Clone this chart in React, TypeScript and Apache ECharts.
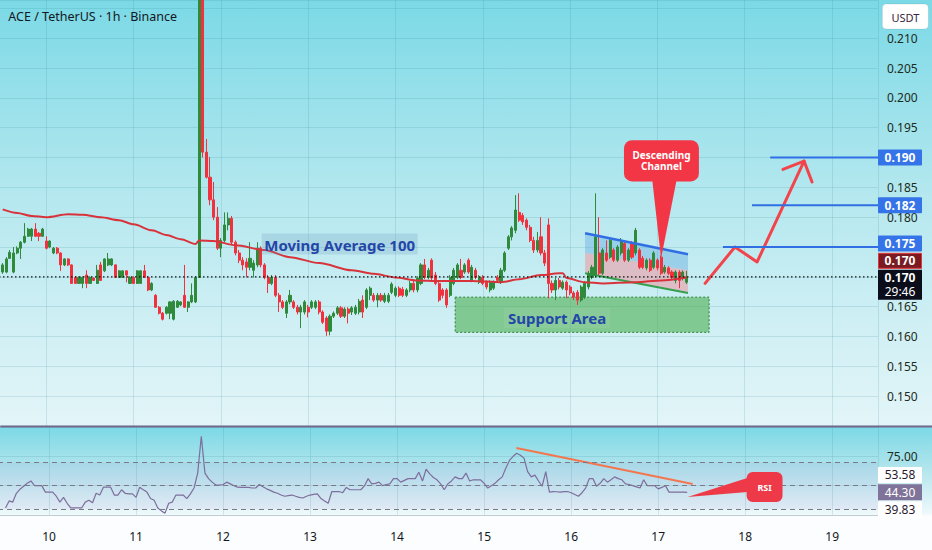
import React, { useEffect, useRef } from "react";
import * as echarts from "echarts";

// time axis: hours counted from day 10, 00:00 (1h candles)
const FIRST_HOUR = -12;
const X_MIN = -24;
const X_MAX = 228.63;
const DAY0 = 10;
// the chart canvas starts left of the page so that the axis starts on a whole day
const OX = 41.34;

// OHLC of the 1h candles, one per hour starting at FIRST_HOUR
const opens = [
  0.1708, 0.1708, 0.1731, 0.1708, 0.174, 0.1748, 0.1758, 0.1768, 0.1768, 0.178,
  0.1773, 0.1768, 0.176, 0.175, 0.174, 0.1748, 0.174, 0.172, 0.173, 0.172,
  0.1699, 0.1689, 0.1689, 0.1703, 0.1689, 0.1698, 0.1689, 0.172, 0.171, 0.172,
  0.172, 0.172, 0.1699, 0.1699, 0.171, 0.1689, 0.1699, 0.1689, 0.1689, 0.171,
  0.1699, 0.1678, 0.1669, 0.1649, 0.1639, 0.1639, 0.1639, 0.1629, 0.1649, 0.1653,
  0.1669, 0.1649, 0.1658, 0.1658, 0.1699, 0.23, 0.1909, 0.1867, 0.1829, 0.18,
  0.1748, 0.1761, 0.1787, 0.1798, 0.1758, 0.174, 0.1728, 0.1725, 0.1716, 0.1711,
  0.172, 0.1748, 0.172, 0.1699, 0.1689, 0.1699, 0.1669, 0.1658, 0.1639, 0.1658,
  0.1658, 0.1649, 0.1641, 0.1641, 0.1649, 0.1649, 0.1649, 0.1658, 0.1641, 0.1631,
  0.1609, 0.1634, 0.1639, 0.1648, 0.1634, 0.1646, 0.1641, 0.1639, 0.1641, 0.1661,
  0.1649, 0.1669, 0.1669, 0.1661, 0.1669, 0.1659, 0.1659, 0.1674, 0.1669, 0.1681,
  0.1679, 0.1669, 0.1678, 0.1689, 0.1678, 0.1689, 0.172, 0.1699, 0.1728, 0.1703,
  0.1689, 0.1678, 0.1678, 0.1669, 0.1689, 0.1699, 0.1711, 0.1708, 0.1728, 0.1694,
  0.1711, 0.1691, 0.1699, 0.1691, 0.1678, 0.1681, 0.1699, 0.1691, 0.1711, 0.1748,
  0.1767, 0.1778, 0.1808, 0.1803, 0.1795, 0.1783, 0.1761, 0.1745, 0.1767, 0.174,
  0.1787, 0.1689, 0.1678, 0.1694, 0.1681, 0.1691, 0.1683, 0.1673, 0.1674, 0.1661,
  0.1666, 0.1683, 0.1699, 0.1703, 0.174, 0.1706, 0.174, 0.1733, 0.1745, 0.1728,
  0.174, 0.1756, 0.1728, 0.1756, 0.174, 0.1745, 0.1731, 0.1715, 0.1728, 0.1716,
  0.1728, 0.1733, 0.1708, 0.1715, 0.1708, 0.1694, 0.1708, 0.1698, 0.1691,
];
const closes = [
  0.172, 0.173, 0.1741, 0.174, 0.1748, 0.1758, 0.1768, 0.178, 0.178, 0.1768,
  0.1768, 0.178, 0.1748, 0.176, 0.1748, 0.174, 0.172, 0.173, 0.172, 0.1689,
  0.1689, 0.1699, 0.1699, 0.1689, 0.1699, 0.1694, 0.1711, 0.1694, 0.173, 0.173,
  0.173, 0.1699, 0.171, 0.171, 0.1703, 0.1699, 0.1689, 0.171, 0.171, 0.1699,
  0.1678, 0.1689, 0.1649, 0.1639, 0.1629, 0.1649, 0.1658, 0.1659, 0.1659, 0.1658,
  0.1649, 0.1658, 0.1669, 0.1699, 0.23, 0.1909, 0.1867, 0.1829, 0.18, 0.1748,
  0.1761, 0.1787, 0.1798, 0.1758, 0.174, 0.1728, 0.172, 0.1716, 0.1731, 0.1723,
  0.1748, 0.172, 0.1699, 0.1689, 0.1699, 0.1669, 0.1658, 0.1649, 0.1658, 0.1669,
  0.1649, 0.1641, 0.1649, 0.1658, 0.1641, 0.1658, 0.1658, 0.1641, 0.1624, 0.1609,
  0.1634, 0.1639, 0.1648, 0.1634, 0.1646, 0.1639, 0.1648, 0.1649, 0.1659, 0.1641,
  0.1678, 0.1681, 0.1661, 0.1669, 0.1661, 0.1669, 0.1669, 0.1688, 0.1681, 0.1669,
  0.1669, 0.1678, 0.1689, 0.1678, 0.1698, 0.172, 0.1699, 0.1711, 0.1698, 0.1689,
  0.1661, 0.1669, 0.1653, 0.1699, 0.1711, 0.172, 0.1699, 0.172, 0.1708, 0.1716,
  0.1699, 0.1699, 0.1689, 0.1683, 0.1691, 0.1691, 0.1694, 0.1711, 0.174, 0.1767,
  0.1782, 0.1812, 0.1795, 0.1792, 0.1783, 0.1761, 0.1745, 0.1761, 0.174, 0.1723,
  0.1689, 0.1678, 0.1694, 0.1683, 0.1691, 0.1678, 0.1673, 0.1666, 0.1661, 0.1683,
  0.1689, 0.1706, 0.1716, 0.1767, 0.1706, 0.1745, 0.1728, 0.1761, 0.1728, 0.175,
  0.1761, 0.1728, 0.1745, 0.1733, 0.1778, 0.1716, 0.1716, 0.1728, 0.1711, 0.174,
  0.1715, 0.1706, 0.1716, 0.1706, 0.1699, 0.1708, 0.1694, 0.1708, 0.17,
];
const lows = [
  0.1705, 0.1706, 0.173, 0.1706, 0.1738, 0.173, 0.1756, 0.1767, 0.176, 0.1767,
  0.176, 0.1767, 0.1746, 0.1748, 0.1738, 0.1738, 0.171, 0.1718, 0.1718, 0.1688,
  0.1688, 0.1688, 0.1681, 0.1681, 0.1688, 0.1693, 0.1688, 0.1693, 0.1708, 0.1718,
  0.1718, 0.1698, 0.1698, 0.1698, 0.1691, 0.1688, 0.1688, 0.1688, 0.1688, 0.1698,
  0.1676, 0.1676, 0.1648, 0.1637, 0.1627, 0.1637, 0.1629, 0.1627, 0.1648, 0.1651,
  0.1648, 0.1641, 0.1656, 0.1656, 0.1698, 0.19, 0.1865, 0.182, 0.1795, 0.1745,
  0.1733, 0.1758, 0.1778, 0.1753, 0.1736, 0.1723, 0.1711, 0.1699, 0.1711, 0.1699,
  0.1716, 0.1716, 0.1696, 0.1673, 0.1686, 0.1666, 0.1641, 0.1646, 0.1631, 0.1654,
  0.1646, 0.1637, 0.1614, 0.1637, 0.1632, 0.1646, 0.1646, 0.1637, 0.1621, 0.1601,
  0.1602, 0.1631, 0.1636, 0.1631, 0.1631, 0.1622, 0.1636, 0.1636, 0.1637, 0.1631,
  0.1646, 0.1661, 0.1658, 0.1649, 0.1658, 0.1656, 0.1656, 0.1671, 0.1666, 0.1666,
  0.1666, 0.1666, 0.1674, 0.1674, 0.1674, 0.1686, 0.1696, 0.1696, 0.1694, 0.1686,
  0.1658, 0.1664, 0.1648, 0.1666, 0.1686, 0.1696, 0.1696, 0.1705, 0.1705, 0.1691,
  0.1696, 0.1688, 0.1686, 0.1679, 0.1674, 0.1678, 0.1691, 0.1688, 0.1708, 0.1745,
  0.1761, 0.1773, 0.1792, 0.1787, 0.1778, 0.1758, 0.174, 0.1741, 0.1736, 0.1718,
  0.1664, 0.1673, 0.1661, 0.1679, 0.1678, 0.1664, 0.1669, 0.1661, 0.1653, 0.1658,
  0.1663, 0.1679, 0.1696, 0.1699, 0.1703, 0.1703, 0.1725, 0.173, 0.1725, 0.1725,
  0.1736, 0.1725, 0.1725, 0.173, 0.1736, 0.1713, 0.1713, 0.1711, 0.1708, 0.1713,
  0.1711, 0.1703, 0.1705, 0.1703, 0.1696, 0.1689, 0.1681, 0.1694, 0.1688,
];
const highs = [
  0.1723, 0.1733, 0.1745, 0.175, 0.1751, 0.176, 0.179, 0.1782, 0.1782, 0.179,
  0.1775, 0.1782, 0.1768, 0.1761, 0.175, 0.175, 0.1741, 0.1731, 0.1731, 0.1721,
  0.1701, 0.1701, 0.1701, 0.1711, 0.1701, 0.1699, 0.172, 0.1725, 0.1731, 0.174,
  0.1731, 0.1721, 0.1711, 0.1711, 0.1711, 0.1701, 0.1701, 0.1711, 0.1711, 0.172,
  0.1701, 0.1691, 0.1671, 0.1651, 0.1641, 0.1651, 0.1659, 0.1661, 0.1661, 0.1659,
  0.172, 0.1659, 0.1689, 0.1701, 0.232, 0.231, 0.1931, 0.1901, 0.1859, 0.1817,
  0.1765, 0.1808, 0.1808, 0.1802, 0.1761, 0.1745, 0.1733, 0.1731, 0.1758, 0.1728,
  0.1758, 0.1751, 0.1723, 0.1703, 0.1703, 0.1703, 0.1673, 0.1661, 0.1661, 0.1678,
  0.1661, 0.1653, 0.1653, 0.1661, 0.1653, 0.1661, 0.1661, 0.1661, 0.1644, 0.1634,
  0.1637, 0.1642, 0.1651, 0.1651, 0.1649, 0.1649, 0.1651, 0.1653, 0.1663, 0.1669,
  0.1681, 0.1684, 0.1673, 0.1673, 0.1673, 0.1673, 0.1673, 0.1691, 0.1684, 0.1684,
  0.1683, 0.1681, 0.1693, 0.1693, 0.1701, 0.1723, 0.173, 0.1715, 0.1731, 0.1708,
  0.1693, 0.1681, 0.1681, 0.1703, 0.1715, 0.1723, 0.173, 0.1723, 0.1731, 0.172,
  0.1715, 0.1703, 0.1703, 0.1694, 0.1694, 0.1694, 0.1703, 0.1715, 0.1743, 0.177,
  0.1785, 0.1837, 0.184, 0.1807, 0.1798, 0.1787, 0.1767, 0.1775, 0.18, 0.1745,
  0.1798, 0.1694, 0.1698, 0.1698, 0.1694, 0.1694, 0.1686, 0.1676, 0.1678, 0.1686,
  0.1693, 0.171, 0.172, 0.184, 0.18, 0.1748, 0.1761, 0.1765, 0.1748, 0.1753,
  0.1765, 0.1761, 0.1748, 0.176, 0.1782, 0.1748, 0.1735, 0.1731, 0.1731, 0.1743,
  0.1731, 0.1736, 0.172, 0.1718, 0.1711, 0.1711, 0.1711, 0.1711, 0.171,
];

// Moving Average 100
const maHours = [-12, -8, -4, 0, 6, 10, 15, 20, 24, 29, 33, 37, 41, 42, 46, 52, 60, 67, 75, 84, 90, 96, 102, 108, 117, 125, 130, 136, 141, 142, 143, 148, 153, 162, 169, 176];
const maValues = [0.1813, 0.1807, 0.1802, 0.18, 0.1805, 0.1804, 0.18, 0.1795, 0.1788, 0.1778, 0.177, 0.1763, 0.1755, 0.1761, 0.176, 0.1753, 0.1745, 0.1733, 0.1723, 0.1711, 0.1705, 0.1699, 0.1694, 0.1693, 0.1693, 0.1691, 0.1696, 0.1703, 0.1706, 0.1706, 0.1698, 0.1691, 0.1689, 0.1691, 0.1694, 0.1699];

// RSI, one value per candle starting at FIRST_HOUR
const rsiValues = [
  31, 37, 36, 43.5, 47, 49.5, 52, 54, 50, 50, 50, 44.5,
  44.5, 44.5, 41, 36, 40, 35, 31, 31, 31, 31,
  36, 37.5, 35.5, 43.5, 42, 48.7, 48.7, 48.7, 42, 42,
  46.5, 43.5, 43, 43, 40, 48.7, 46.5, 44.5, 39, 37.5,
  31, 28.5, 26.6, 35, 36, 42, 42, 42, 39, 43,
  48, 60.7, 92, 60.7, 56, 53, 50.5, 50.5, 51, 53,
  51.5, 50, 48.7, 48.5, 48.5, 48.5, 48, 48, 51, 49,
  47.3, 46, 44.5, 43.5, 42, 41, 41.5, 42, 41, 40,
  39.5, 41, 42, 42.5, 43, 39, 37, 35, 45, 45,
  45, 44, 48.5, 46.5, 46.5, 46.5, 46.5, 49.8, 56, 51.5,
  52, 53, 50, 51, 51.5, 56, 56, 53, 54.5, 56,
  56, 56, 61.5, 54, 64, 60, 57, 55, 51.5, 46.5,
  51.5, 54, 57.5, 56, 56, 60.7, 54, 55, 55, 55,
  52, 48, 50, 52, 55, 57.5, 65, 71.5, 75, 77.6,
  76, 73.5, 62, 57.5, 59, 54, 49.5, 62, 44.5, 45,
  44.8, 44.5, 45, 45, 44, 42.5, 41, 44, 48, 56,
  56, 49.5, 52, 56, 53, 55, 57.5, 56, 55, 51.5,
  51, 50, 49, 48, 55, 50, 50, 50, 47.3, 48.5,
  50, 44.5, 44.5, 44.5, 44.5, 44.5, 44.3,
];
const rsiBands = [70, 50, 30];
const rsiSideValues = [53.58, 44.3, 39.83];

// price scale tags
const currentPrice = 0.17;
const maTagPrice = 0.17;
const countdown = "29:46";
const targetLevels = [0.175, 0.182, 0.19];
const targetTagShift = [-3.5, 0, 0];
const targetStartHours = [186, 194, 199];
const hiddenPriceTicks = [0.17, 0.175, 0.19];

// drawings
const channelHours = [148.1, 176.4];
const channelTop = [0.1773, 0.1738];
const channelMid = [0.174, 0.1711];
const channelBottom = [0.1706, 0.1673];
const supportHours = [112.4, 182.2];
const supportPrices = [0.1666, 0.1607];
const supportLabelAt = [140.4, 0.1631];
const maLabelAt = [80.65, 0.1755];
const calloutBoxHours = [158.8, 179.4];
const calloutBoxPrices = [0.1929, 0.186];
const calloutPointerHours = [166.5, 173.4, 169.0];
const calloutPointerTip = 0.1731;
const projectionHours = [181.1, 189.3, 195.4, 208.3];
const projectionPrices = [0.1689, 0.175, 0.1725, 0.1894];
const arrowHeadHours = [202.5, 208.3, 210.5];
const arrowHeadPrices = [0.188, 0.1894, 0.1859];
const rsiTrendHours = [128.9, 177.5];
const rsiTrendValues = [82.1, 51.4];
const rsiBoxHours = [192.4, 202.3];
const rsiBoxValues = [61.6, 36.1];
const rsiPointer = [[176.1, 40.3], [192.6, 56.5], [192.6, 44.6]];

const FONT = "'Noto Sans', 'Open Sans', sans-serif";
const UP = "#2f8a3c";
const DOWN = "#f0323f";
const GRID = "rgba(50,130,150,0.16)";
const AXIS_TEXT = "#1d2b20";
const BLUE = "#2f6fe3";
const TEXT_BLUE = "#2446a8";

function txt(text: string, x: number, y: number, font: string, fill: string, align = "center", lineHeight?: number) {
  const style: any = { text, x, y, font, fill, textAlign: align, textVerticalAlign: "middle" };
  if (lineHeight) style.lineHeight = lineHeight;
  return { type: "text", style } as any;
}

export default function App() {
  const ref = useRef<HTMLDivElement>(null);

  useEffect(() => {
    const chart = echarts.init(ref.current!, null, { renderer: "svg" });

    const candles = opens.map((o, i) => [FIRST_HOUR + i, o, closes[i], lows[i], highs[i]]);
    const ma = maHours.map((h, i) => [h, maValues[i]]);
    const rsi = rsiValues.map((v, i) => [FIRST_HOUR + i, v]);
    const dayFmt = (v: number) => {
      const d = v / 24;
      if (v >= 0 && Math.abs(d - Math.round(d)) < 1e-6) return String(DAY0 + Math.round(d));
      return "";
    };

    const lowerDrawings = (_p: any, api: any) => {
      const P = (h: number, v: number) => api.coord([h, v]);
      const [sx1, sy1] = P(supportHours[0], supportPrices[0]);
      const [sx2, sy2] = P(supportHours[1], supportPrices[1]);
      const t0 = P(channelHours[0], channelTop[0]);
      const t1 = P(channelHours[1], channelTop[1]);
      const m0 = P(channelHours[0], channelMid[0]);
      const m1 = P(channelHours[1], channelMid[1]);
      const b0 = P(channelHours[0], channelBottom[0]);
      const b1 = P(channelHours[1], channelBottom[1]);
      return {
        type: "group",
        children: [
          { type: "rect", shape: { x: sx1, y: sy1, width: sx2 - sx1, height: sy2 - sy1 }, style: { fill: "rgba(76,175,80,0.6)", stroke: "#2e7d32", lineWidth: 1, lineDash: [2, 2] } },
          { type: "polygon", shape: { points: [t0, t1, m1, m0] }, style: { fill: "rgba(100,170,225,0.42)" } },
          { type: "polygon", shape: { points: [m0, m1, b1, b0] }, style: { fill: "rgba(240,150,160,0.55)" } },
          { type: "line", shape: { x1: b0[0], y1: b0[1], x2: b1[0], y2: b1[1] }, style: { stroke: "#35a04e", lineWidth: 2 } },
        ],
      };
    };

    const upperDrawings = (_p: any, api: any) => {
      const P = (h: number, v: number) => api.coord([h, v]);
      const children: any[] = [];
      const c0 = P(X_MIN, currentPrice);
      const c1 = P(X_MAX, currentPrice);
      children.push({ type: "line", shape: { x1: c0[0], y1: c0[1], x2: c1[0], y2: c1[1] }, style: { stroke: "#111", lineWidth: 1.2, lineDash: [1.5, 2.5] } });
      const t0 = P(channelHours[0], channelTop[0]);
      const t1 = P(channelHours[1], channelTop[1]);
      children.push({ type: "line", shape: { x1: t0[0], y1: t0[1], x2: t1[0], y2: t1[1] }, style: { stroke: BLUE, lineWidth: 2.5 } });
      targetLevels.forEach((lv, i) => {
        const a = P(targetStartHours[i], lv);
        const b = P(X_MAX, lv);
        children.push({ type: "line", shape: { x1: a[0], y1: a[1], x2: b[0], y2: b[1] }, style: { stroke: BLUE, lineWidth: 2 } });
      });
      const ml = P(maLabelAt[0], maLabelAt[1]);
      children.push({ type: "rect", shape: { x: ml[0] - 78, y: ml[1] - 10.5, width: 156, height: 21 }, style: { fill: "rgba(110,150,190,0.24)" } });
      children.push(txt("Moving Average 100", ml[0], ml[1] + 0.5, `bold 15px ${FONT}`, TEXT_BLUE));
      const sl = P(supportLabelAt[0], supportLabelAt[1]);
      children.push({ type: "rect", shape: { x: sl[0] - 53, y: sl[1] - 10, width: 106, height: 20 }, style: { fill: "rgba(255,255,255,0.07)" } });
      children.push(txt("Support Area", sl[0], sl[1], `bold 15px ${FONT}`, TEXT_BLUE));
      const bx0 = P(calloutBoxHours[0], calloutBoxPrices[0]);
      const bx1 = P(calloutBoxHours[1], calloutBoxPrices[1]);
      const pa = P(calloutPointerHours[0], calloutBoxPrices[1]);
      const pb = P(calloutPointerHours[1], calloutBoxPrices[1]);
      const tip = P(calloutPointerHours[2], calloutPointerTip);
      children.push({ type: "polygon", shape: { points: [[pa[0], pa[1] - 4], [pb[0], pb[1] - 4], tip] }, style: { fill: "#f23645" } });
      children.push({ type: "rect", shape: { x: bx0[0], y: bx0[1], width: bx1[0] - bx0[0], height: bx1[1] - bx0[1], r: 8 }, style: { fill: "#f23645" } });
      const cx = (bx0[0] + bx1[0]) / 2;
      const cy = (bx0[1] + bx1[1]) / 2;
      children.push(txt("Descending\nChannel", cx, cy, `bold 10px ${FONT}`, "#ffffff", "center", 11));
      const xr = c1[0];
      targetLevels.forEach((lv, i) => {
        const y = P(X_MAX, lv)[1] + targetTagShift[i];
        children.push({ type: "rect", shape: { x: xr, y: y - 8, width: 44, height: 16, r: 1 }, style: { fill: "#3474e8" } });
        children.push(txt(lv.toFixed(3), xr + 22, y, `bold 12px ${FONT}`, "#ffffff"));
      });
      const my = P(X_MAX, maTagPrice)[1] - 16;
      children.push({ type: "rect", shape: { x: xr + 0.5, y: my - 7.5, width: 43, height: 15 }, style: { fill: "#7a1b22", stroke: "#e5313c", lineWidth: 1 } });
      children.push(txt(maTagPrice.toFixed(3), xr + 22, my, `bold 12px ${FONT}`, "#ffffff"));
      const cy0 = c1[1] - 7;
      children.push({ type: "rect", shape: { x: xr, y: cy0, width: 44, height: 30 }, style: { fill: "#0b0e1a" } });
      children.push(txt(currentPrice.toFixed(3), xr + 22, cy0 + 8, `bold 12px ${FONT}`, "#ffffff"));
      children.push(txt(countdown, xr + 22, cy0 + 22, `12px ${FONT}`, "#ffffff"));
      return { type: "group", children };
    };

    const rsiDrawings = (_p: any, api: any) => {
      const P = (h: number, v: number) => api.coord([h, v]);
      const children: any[] = [];
      const b0 = P(rsiBoxHours[0], rsiBoxValues[0]);
      const b1 = P(rsiBoxHours[1], rsiBoxValues[1]);
      children.push({ type: "polygon", shape: { points: rsiPointer.map((q) => P(q[0], q[1])) }, style: { fill: "#ee3a48" } });
      children.push({ type: "rect", shape: { x: b0[0], y: b0[1], width: b1[0] - b0[0], height: b1[1] - b0[1], r: 6 }, style: { fill: "#ee3a48" } });
      children.push(txt("RSI", (b0[0] + b1[0]) / 2, (b0[1] + b1[1]) / 2, `bold 9px ${FONT}`, "#ffffff"));
      const xr = P(X_MAX, 50)[0];
      const offsets = [-6.5, 0, 12];
      rsiSideValues.forEach((v, i) => {
        const y = P(X_MAX, v)[1] + offsets[i];
        const cur = i === 1;
        children.push({ type: "rect", shape: { x: xr, y: y - 8, width: 44, height: 16 }, style: { fill: cur ? "#7f7399" : "#ffffff" } });
        children.push(txt(v.toFixed(2), xr + 22, y, `12px ${FONT}`, cur ? "#ffffff" : "#2a1a2e"));
      });
      return { type: "group", children };
    };

    const xCommon = {
      type: "value",
      min: X_MIN,
      max: X_MAX,
      interval: 24,
      axisTick: { show: false },
      splitLine: { show: true, lineStyle: { color: GRID, width: 1 } },
    };

    const option: any = {
      animation: false,
      textStyle: { fontFamily: FONT },
      grid: [
        { left: 0, right: 54, top: 0, height: 426 },
        { left: 0, right: 54, top: 427, height: 88 },
      ],
      xAxis: [
        { ...xCommon, gridIndex: 0, axisLine: { show: false }, axisLabel: { show: false } },
        {
          ...xCommon,
          gridIndex: 1,
          axisLine: { show: true, lineStyle: { color: "rgba(120,120,140,0.25)" } },
          axisLabel: { show: true, formatter: dayFmt, color: "#131722", fontSize: 12, margin: 15, fontFamily: FONT },
        },
      ],
      yAxis: [
        {
          type: "value",
          gridIndex: 0,
          position: "right",
          min: 0.145,
          max: 0.2164,
          interval: 0.005,
          axisLine: { show: false },
          axisTick: { show: false },
          splitLine: { show: true, lineStyle: { color: GRID } },
          axisLabel: {
            color: AXIS_TEXT,
            fontSize: 12,
            margin: 9,
            fontFamily: FONT,
            formatter: (v: number) => {
              if (v < 0.1499 || v > 0.2101) return "";
              if (hiddenPriceTicks.some((t) => Math.abs(t - v) < 1e-6)) return "";
              return v.toFixed(3);
            },
          },
        },
        {
          type: "value",
          gridIndex: 1,
          position: "right",
          min: 25,
          max: 100,
          interval: 25,
          axisLine: { show: false },
          axisTick: { show: false },
          splitLine: { show: true, lineStyle: { color: GRID } },
          axisLabel: {
            color: AXIS_TEXT,
            fontSize: 12,
            margin: 9,
            fontFamily: FONT,
            formatter: (v: number) => (Math.abs(v - 75) < 1e-6 ? "75.00" : ""),
          },
        },
      ],
      series: [
        {
          type: "custom",
          xAxisIndex: 0,
          yAxisIndex: 0,
          z: 1,
          silent: true,
          clip: false,
          data: [[0, currentPrice]],
          encode: { x: 0, y: 1 },
          renderItem: lowerDrawings,
        },
        {
          type: "candlestick",
          xAxisIndex: 0,
          yAxisIndex: 0,
          z: 3,
          barWidth: 2.6,
          data: candles,
          encode: { x: 0, y: [1, 2, 3, 4] },
          itemStyle: { color: UP, color0: DOWN, borderColor: UP, borderColor0: DOWN, borderWidth: 1 },
        },
        {
          type: "line",
          xAxisIndex: 0,
          yAxisIndex: 0,
          z: 4,
          data: ma,
          smooth: 0.3,
          smoothMonotone: "x",
          showSymbol: false,
          lineStyle: { color: "#d8333b", width: 2 },
        },
        {
          type: "line",
          xAxisIndex: 0,
          yAxisIndex: 0,
          z: 5,
          data: projectionHours.map((h, i) => [h, projectionPrices[i]]),
          showSymbol: false,
          lineStyle: { color: "#f2444a", width: 3, cap: "round", join: "round" },
        },
        {
          type: "line",
          xAxisIndex: 0,
          yAxisIndex: 0,
          z: 5,
          data: arrowHeadHours.map((h, i) => [h, arrowHeadPrices[i]]),
          showSymbol: false,
          lineStyle: { color: "#f2444a", width: 3, cap: "round", join: "round" },
        },
        {
          type: "custom",
          xAxisIndex: 0,
          yAxisIndex: 0,
          z: 6,
          silent: true,
          clip: false,
          data: [[0, currentPrice]],
          encode: { x: 0, y: 1 },
          renderItem: upperDrawings,
        },
        {
          type: "line",
          xAxisIndex: 1,
          yAxisIndex: 1,
          z: 3,
          data: rsi,
          showSymbol: false,
          lineStyle: { color: "#7e6e9c", width: 1.2 },
          markArea: {
            silent: true,
            itemStyle: { color: "rgba(126,87,194,0.08)" },
            data: [[{ yAxis: rsiBands[2] }, { yAxis: rsiBands[0] }]],
          },
          markLine: {
            silent: true,
            symbol: ["none", "none"],
            label: { show: false },
            lineStyle: { color: "#787b86", type: [5, 4], width: 1 },
            data: rsiBands.map((b) => ({ yAxis: b })),
          },
        },
        {
          type: "line",
          xAxisIndex: 1,
          yAxisIndex: 1,
          z: 4,
          data: rsiTrendHours.map((h, i) => [h, rsiTrendValues[i]]),
          showSymbol: false,
          lineStyle: { color: "#f3764f", width: 2 },
        },
        {
          type: "custom",
          xAxisIndex: 1,
          yAxisIndex: 1,
          z: 6,
          silent: true,
          clip: false,
          data: [[0, 50]],
          encode: { x: 0, y: 1 },
          renderItem: rsiDrawings,
        },
      ],
      graphic: [
        { type: "rect", z: 50, shape: { x: OX, y: 425.6, width: 932, height: 2 }, style: { fill: "#76688a" } },
        { type: "text", z: 50, style: { text: "ACE / TetherUS · 1h · Binance", x: OX + 8, y: 16, font: `12.5px ${FONT}`, fill: "#131722", textAlign: "left", textVerticalAlign: "middle" } },
        { type: "rect", z: 50, shape: { x: OX + 882, y: 4, width: 46, height: 25, r: 4 }, style: { fill: "#ffffff", stroke: "rgba(0,0,0,0.08)", lineWidth: 1 } },
        { type: "text", z: 51, style: { text: "USDT", x: OX + 905, y: 17, font: `11px ${FONT}`, fill: "#3b2240", textAlign: "center", textVerticalAlign: "middle" } },
      ],
    };

    chart.setOption(option);
    return () => chart.dispose();
  }, []);

  return (
    <div
      style={{
        position: "fixed",
        left: 0,
        top: 0,
        width: 932,
        height: 550,
        overflow: "hidden",
        background:
          "linear-gradient(180deg, #7bd9e6 0px, #b6e8ef 200px, #e3f5f8 425px, #7bd9e6 427px, #b4e5ed 470px, #eef9fb 514px, #fbfdfe 516px, #fbfdfe 550px)",
      }}
    >
      <div ref={ref} style={{ position: "absolute", left: -OX, top: 0, width: 932 + OX, height: 550 }} />
    </div>
  );
}
